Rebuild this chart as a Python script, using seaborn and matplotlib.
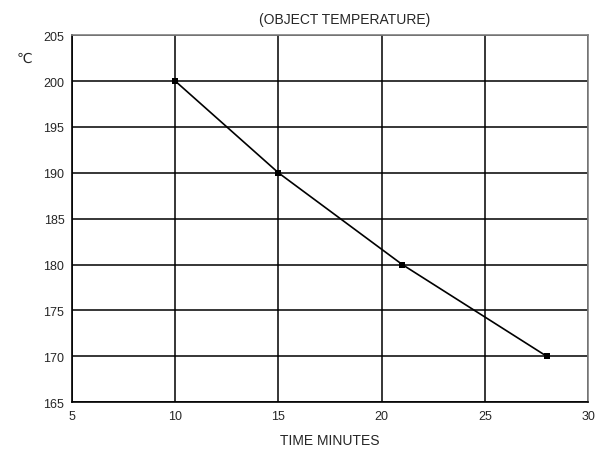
import seaborn as sns
import matplotlib.pyplot as plt
import pandas as pd

time_minutes = [10, 15, 21, 28]
temperature = [200, 190, 180, 170]
x_ticks = [5, 10, 15, 20, 25, 30]
y_ticks = [165, 170, 175, 180, 185, 190, 195, 200, 205]

sns.set_style("white")
plt.rcParams['font.family'] = ['Liberation Sans', 'DejaVu Sans']

df = pd.DataFrame({'time': time_minutes, 'temp': temperature})

fig = plt.figure(figsize=(6.05, 4.52), dpi=100)
ax = fig.add_axes([0.119, 0.108, 0.853, 0.812])
sns.lineplot(data=df, x='time', y='temp', ax=ax, color='black',
             linewidth=1.2, marker='s', markersize=4, markeredgewidth=0)

ax.set_xlim(5, 30)
ax.set_ylim(165, 205)
ax.set_xticks(x_ticks)
ax.set_yticks(y_ticks)
ax.grid(True, color='black', linewidth=1.1)
ax.tick_params(labelsize=9, length=3, direction='inout', color='black',
               width=1, pad=4)
for side in ['left', 'bottom']:
    ax.spines[side].set_color('black')
    ax.spines[side].set_linewidth(1.2)
for side in ['top', 'right']:
    ax.spines[side].set_color('#808080')
    ax.spines[side].set_linewidth(1.2)

ax.set_xlabel('TIME MINUTES', fontsize=10, labelpad=8)
ax.set_ylabel('')
fig.text(0.57, 0.955, '(OBJECT TEMPERATURE)', ha='center', va='center', fontsize=10)
fig.text(0.04, 0.87, '℃', ha='center', va='center', fontsize=10)

fig.savefig('out.png', dpi=100)
